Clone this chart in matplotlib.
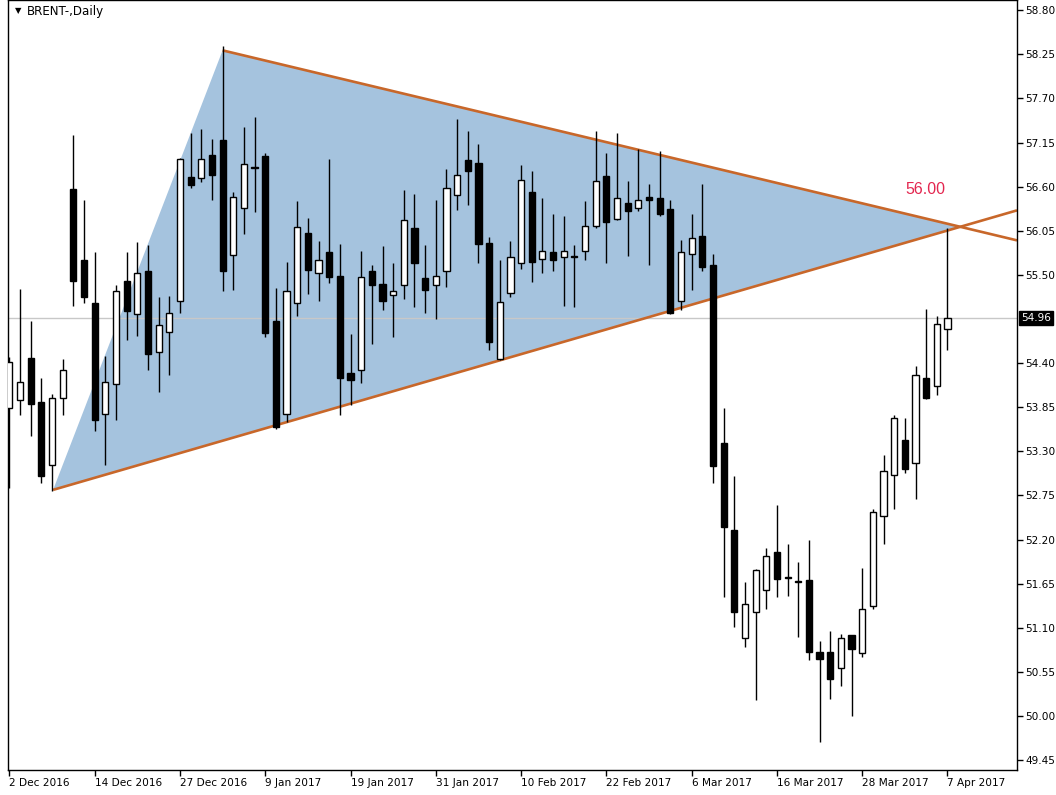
import matplotlib
matplotlib.use("Agg")
import matplotlib.pyplot as plt
import matplotlib.transforms as mtransforms
from matplotlib.patches import Polygon
import numpy as np

# ---- data ----
opens = [53.84, 53.94, 54.46, 53.91, 53.13, 53.97, 56.57, 55.69, 55.15, 53.77,
         54.14, 55.42, 55.01, 55.55, 54.54, 54.79, 55.17, 56.72, 56.71, 57.00,
         57.18, 55.75, 56.33, 56.85, 56.98, 54.93, 53.77, 55.15, 56.02, 55.53,
         55.79, 55.49, 54.28, 54.32, 55.55, 55.39, 55.25, 55.37, 56.09, 55.46,
         55.37, 55.55, 56.50, 56.93, 56.90, 55.90, 54.45, 55.27, 55.65, 56.54,
         55.70, 55.79, 55.72, 55.74, 55.80, 56.11, 56.73, 56.20, 56.40, 56.33,
         56.47, 56.46, 56.32, 55.17, 55.76, 55.98, 55.62, 53.40, 52.32, 50.97,
         51.30, 51.57, 52.05, 51.73, 51.68, 51.69, 50.80, 50.80, 50.60, 51.01,
         50.78, 51.37, 52.49, 53.01, 53.44, 53.16, 54.22, 54.12, 54.83]
highs = [54.48, 55.32, 54.93, 54.21, 54.02, 54.45, 57.25, 56.43, 55.79, 54.49,
         55.37, 55.78, 55.91, 55.87, 55.22, 55.24, 56.96, 57.27, 57.32, 57.20,
         58.36, 56.54, 57.35, 57.47, 57.02, 55.34, 55.66, 56.42, 56.21, 55.92,
         56.95, 55.89, 54.76, 55.80, 55.62, 55.86, 55.65, 56.56, 56.51, 55.87,
         56.44, 56.82, 57.45, 57.30, 57.13, 55.97, 55.69, 55.92, 56.87, 56.79,
         56.46, 56.26, 56.24, 55.87, 56.42, 57.30, 57.02, 57.27, 56.67, 57.07,
         56.63, 57.05, 56.44, 55.94, 56.26, 56.63, 55.76, 53.84, 52.99, 51.67,
         51.83, 52.10, 52.63, 52.15, 51.92, 52.20, 50.94, 51.06, 51.02, 51.01,
         51.85, 52.58, 53.26, 53.75, 53.71, 54.36, 55.07, 54.99, 56.08]
lows = [52.84, 53.75, 53.49, 52.91, 52.80, 53.75, 55.11, 55.15, 53.55, 53.13,
        53.69, 54.69, 54.74, 54.31, 54.04, 54.25, 55.03, 56.59, 56.66, 56.44,
        55.30, 55.31, 56.01, 56.28, 54.73, 53.58, 53.66, 54.99, 55.26, 55.18,
        55.40, 53.75, 53.88, 54.15, 54.64, 55.06, 54.73, 55.20, 55.10, 55.03,
        54.95, 55.35, 56.31, 56.37, 55.65, 54.56, 54.44, 55.22, 55.58, 55.41,
        55.53, 55.55, 55.11, 55.10, 55.68, 56.09, 55.65, 56.18, 55.73, 56.30,
        55.62, 56.24, 55.01, 55.06, 55.31, 55.55, 52.90, 51.48, 51.11, 50.86,
        50.20, 51.33, 51.48, 51.50, 50.98, 50.70, 49.67, 50.21, 50.37, 50.00,
        50.74, 51.33, 52.14, 52.58, 53.03, 52.71, 53.95, 54.00, 54.56]
closes = [54.41, 54.17, 53.89, 52.99, 53.96, 54.31, 55.42, 55.22, 53.69, 54.17,
          55.30, 55.05, 55.53, 54.52, 54.87, 55.03, 56.95, 56.62, 56.95, 56.75,
          55.55, 56.47, 56.88, 56.83, 54.78, 53.61, 55.30, 56.10, 55.56, 55.69,
          55.47, 54.22, 54.19, 55.47, 55.37, 55.17, 55.30, 56.19, 55.65, 55.31,
          55.49, 56.58, 56.75, 56.80, 55.88, 54.66, 55.16, 55.72, 56.68, 55.66,
          55.80, 55.68, 55.80, 55.72, 56.11, 56.67, 56.16, 56.46, 56.30, 56.43,
          56.43, 56.26, 55.02, 55.78, 55.96, 55.60, 53.12, 52.36, 51.30, 51.40,
          51.82, 52.00, 51.71, 51.72, 51.67, 50.80, 50.71, 50.46, 50.97, 50.84,
          51.33, 52.55, 53.06, 53.71, 53.08, 54.25, 53.97, 54.89, 54.96]

date_labels = ["2 Dec 2016", "14 Dec 2016", "27 Dec 2016", "9 Jan 2017",
               "19 Jan 2017", "31 Jan 2017", "10 Feb 2017", "22 Feb 2017",
               "6 Mar 2017", "16 Mar 2017", "28 Mar 2017", "7 Apr 2017"]
price_ticks = [58.80, 58.25, 57.70, 57.15, 56.60, 56.05, 55.50, 54.40, 53.85,
               53.30, 52.75, 52.20, 51.65, 51.10, 50.55, 50.00, 49.45]
last_price = 54.96

# triangle object: (bar index, price) of its three vertices
tri_bars = [4.1, 20.0, 89.2]
tri_prices = [52.82, 58.30, 56.10]
level_label = "56.00"
level_pos = (85.96, 56.57)

# ---- figure ----
W, H = 1056, 795
fig = plt.figure(figsize=(W / 100, H / 100), dpi=100)
fig.patch.set_facecolor("white")
ax = fig.add_axes([7.5 / W, 25 / H, (1017 - 7.5) / W, 770 / H])
ax.set_facecolor("white")

n = len(opens)
x = np.arange(n)
ax.set_xlim(-0.178, 94.52)
ax.set_ylim(49.327, 58.928)

# triangle fill
poly = Polygon(list(zip(tri_bars, tri_prices)), closed=True,
               facecolor="#a5c3de", edgecolor="none", zorder=1)
ax.add_patch(poly)

# trend lines extended to right edge
xr = 94.52
for (xa, pa) in [(tri_bars[0], tri_prices[0]), (tri_bars[1], tri_prices[1])]:
    slope = (tri_prices[2] - pa) / (tri_bars[2] - xa)
    ax.plot([xa, xr], [pa, pa + slope * (xr - xa)], color="#c8672a",
            lw=1.9, zorder=2, solid_capstyle="butt")

# bid line
ax.axhline(last_price, color="#c8c8c8", lw=1.0, zorder=1.5)

# candles
o = np.array(opens); c = np.array(closes)
hi = np.array(highs); lo = np.array(lows)
ax.vlines(x, lo, hi, color="black", lw=1.0, zorder=3)
bull = c >= o
body_bottom = np.minimum(o, c)
body_h = np.maximum(np.abs(c - o), 0.012)
ax.bar(x[bull], body_h[bull], bottom=body_bottom[bull], width=0.58,
       color="white", edgecolor="black", linewidth=1.0, zorder=4)
ax.bar(x[~bull], body_h[~bull], bottom=body_bottom[~bull], width=0.58,
       color="black", edgecolor="black", linewidth=1.0, zorder=4)

# text label
ax.text(level_pos[0], level_pos[1], level_label, color="#e3264f",
        fontsize=11.5, family="Liberation Sans", ha="center", va="center",
        zorder=6)

# axes styling
for s in ax.spines.values():
    s.set_color("black")
    s.set_linewidth(1.0)

ax.set_xticks(np.arange(0, n, 8))
ax.set_xticklabels(date_labels, fontsize=7.6, family="DejaVu Sans")
for lbl in ax.get_xticklabels():
    lbl.set_ha("left")
ax.tick_params(axis="x", direction="out", length=4, width=1, pad=1.5)

ax.yaxis.tick_right()
ax.set_yticks(price_ticks)
ax.set_yticklabels([f"{p:.2f}" for p in price_ticks], fontsize=7.6,
                   family="DejaVu Sans")
ax.tick_params(axis="y", direction="out", length=4, width=1, pad=2)

# current price label on the right axis
trans = mtransforms.blended_transform_factory(ax.transAxes, ax.transData)
ax.text(1.004, last_price, f"{last_price:.2f}", transform=trans, color="white",
        fontsize=7.6, family="DejaVu Sans", ha="left", va="center",
        bbox=dict(boxstyle="square,pad=0.2", facecolor="black",
                  edgecolor="black"), zorder=10, clip_on=False)

# chart title
fig.text(15 / W, 1 - 11 / H, "▼", fontsize=6, family="DejaVu Sans",
         ha="left", va="center", color="black")
fig.text(27 / W, 1 - 11 / H, "BRENT-,Daily", fontsize=8.6,
         family="DejaVu Sans", ha="left", va="center", color="black")

fig.savefig("out.png", dpi=100, facecolor="white")
